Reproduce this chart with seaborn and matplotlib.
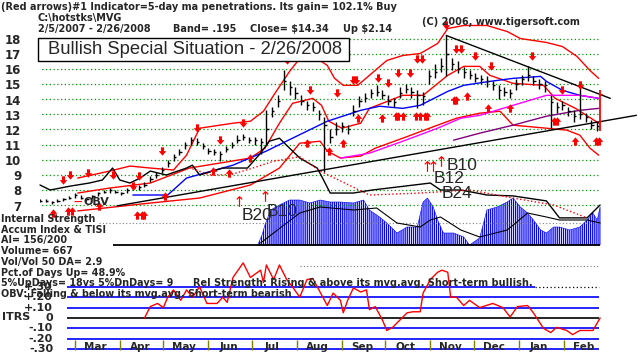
import numpy as np
import pandas as pd
import seaborn as sns
import matplotlib
matplotlib.use("Agg")
import matplotlib.pyplot as plt
from matplotlib.patches import Rectangle

# ---------------------------------
# Data, 2/5/2007 - 2/26/2008
# x values are calendar days after 2/5/2007
# ---------------------------------
start = pd.Timestamp("2007-02-05")

bar_day = np.arange(0, 385, 4)
bar_close = [7.3, 7.3, 7.2, 7.3, 7.4, 7.5, 7.7, 7.5, 7.4, 7.6,
             7.8, 7.9, 8.0, 7.9, 7.8, 8.0, 8.1, 8.2, 8.3, 8.7,
             9.0, 9.3, 9.8, 10.2, 10.5, 11.0, 11.3, 11.2, 10.9, 10.6,
             10.5, 10.4, 10.7, 11.0, 11.3, 11.5, 11.3, 11.3, 11.2, 12.0,
             13.2, 13.9, 15.2, 14.8, 14.4, 13.9, 13.6, 13.5, 13.0, 12.3,
             11.5, 12.0, 12.2, 12.0, 13.2, 13.9, 14.1, 14.4, 14.5, 14.3,
             13.9, 13.8, 14.4, 14.7, 14.5, 14.3, 14.2, 15.5, 15.8, 16.2,
             17.0, 16.3, 16.0, 15.8, 15.6, 15.4, 15.3, 15.2, 14.9, 14.6,
             14.5, 14.4, 15.0, 15.3, 15.6, 15.2, 15.0, 14.9, 13.8, 13.5,
             13.6, 13.2, 12.9, 13.0, 12.8, 12.3, 12.2]
bar_high = [7.4, 7.4, 7.3, 7.4, 7.5, 7.6, 7.8, 7.7, 7.5, 7.7,
            7.9, 8.0, 8.1, 8.0, 7.9, 8.1, 8.2, 8.3, 8.5, 8.9,
            9.2, 9.5, 10.0, 10.4, 10.7, 11.2, 11.5, 11.4, 11.1, 10.8,
            10.7, 10.6, 10.9, 11.2, 11.6, 11.7, 11.5, 11.5, 11.4, 13.3,
            13.5, 14.3, 15.9, 15.2, 14.8, 14.3, 13.9, 13.8, 13.3, 12.8,
            12.0, 12.5, 12.5, 12.3, 13.6, 14.2, 14.4, 14.7, 14.9, 14.6,
            14.3, 14.1, 14.8, 15.0, 14.8, 14.6, 14.5, 15.9, 16.3, 16.7,
            18.2, 16.7, 16.5, 16.1, 15.9, 15.7, 15.6, 15.5, 15.2, 14.9,
            14.8, 14.7, 15.3, 15.6, 16.2, 15.5, 15.3, 15.2, 14.3, 13.8,
            13.9, 13.5, 13.3, 14.8, 13.1, 12.6, 12.5]
bar_low = [7.2, 7.2, 7.1, 7.2, 7.3, 7.4, 7.5, 7.4, 7.3, 7.4,
           7.6, 7.8, 7.8, 7.8, 7.7, 7.8, 8.0, 8.0, 8.2, 8.5,
           8.8, 9.1, 9.5, 9.9, 10.3, 10.7, 11.0, 11.0, 10.7, 10.4,
           10.3, 9.9, 10.5, 10.8, 11.1, 11.3, 11.1, 11.0, 10.4, 11.0,
           12.8, 13.5, 14.6, 14.3, 14.0, 13.6, 13.3, 13.2, 12.6, 9.2,
           11.1, 11.6, 11.8, 11.7, 12.9, 13.5, 13.8, 14.1, 14.2, 14.0,
           13.6, 13.5, 14.1, 14.4, 14.1, 13.4, 13.6, 15.0, 15.4, 15.8,
           15.5, 15.9, 15.7, 15.4, 15.3, 15.1, 15.0, 14.8, 14.6, 14.0,
           14.2, 14.1, 14.6, 14.9, 15.2, 14.9, 14.7, 14.5, 12.0, 13.1,
           13.3, 12.9, 12.5, 12.7, 12.5, 12.0, 11.9]
last_day, last_close, last_high, last_low = 386, 14.34, 14.6, 11.9

upper_day = [26, 48, 62, 76, 92, 101, 110, 133, 145, 154, 161, 172, 179, 191, 198, 203, 209,
             219, 227, 239, 250, 262, 274, 281, 292, 308, 322, 331, 349, 360, 370, 379, 385]
upper_val = [8.79, 9.25, 9.58, 9.45, 9.32, 10.30, 12.08, 12.41, 12.54, 13.20, 14.25, 15.83,
             16.68, 16.68, 16.22, 15.37, 14.91, 14.91, 15.57, 16.55, 16.88, 17.01, 17.67,
             18.66, 18.86, 18.86, 18.46, 18.00, 17.74, 17.47, 16.82, 15.89, 15.37]
middle_day = [26, 48, 76, 103, 124, 145, 155, 165, 174, 188, 194, 199, 208, 221, 227, 250, 264,
              281, 292, 303, 310, 326, 347, 355, 369, 385]
middle_val = [7.80, 8.13, 8.46, 9.45, 9.78, 10.11, 10.76, 12.41, 13.72, 14.05, 13.59, 12.54,
              12.08, 12.41, 13.39, 14.25, 14.25, 15.57, 16.16, 16.16, 15.57, 15.04, 14.91,
              14.05, 13.39, 12.41]
lower_day = [26, 76, 110, 145, 165, 179, 193, 198, 207, 221, 231, 250, 274, 287, 303, 317, 326,
             349, 363, 372, 379, 385]
lower_val = [6.62, 7.14, 7.47, 8.33, 9.45, 11.09, 11.22, 10.57, 10.11, 10.24, 10.76, 11.42,
             12.28, 12.74, 13.07, 13.20, 12.28, 12.08, 11.95, 11.62, 10.76, 10.30]
blue_day = [64, 88, 101, 133, 156, 174, 198, 221, 234, 250, 262, 281, 292, 310, 326, 345, 349,
            360, 372, 385]
blue_val = [7.67, 7.67, 8.79, 9.64, 10.57, 11.42, 12.54, 13.26, 13.53, 13.39, 13.59, 14.51,
            14.91, 15.17, 15.37, 15.50, 15.17, 14.58, 14.25, 14.05]
magenta_day = [207, 227, 250, 274, 290, 303, 326, 349, 372, 385]
magenta_val = [10.11, 10.43, 11.22, 12.08, 12.74, 12.93, 13.59, 14.25, 14.25, 14.05]
purple_day = [285, 303, 326, 349, 372, 385]
purple_val = [11.29, 11.75, 12.28, 12.87, 13.26, 13.39]

obv_day = [0, 7, 21, 34, 43, 50, 55, 62, 69, 76, 87, 101, 105, 110, 126, 143, 152, 158, 165,
           172, 179, 191, 194, 200, 216, 229, 269, 276, 290, 308, 326, 349, 358, 377, 386]
obv_val = [8.33, 8.00, 8.26, 8.46, 8.66, 9.45, 8.66, 8.46, 8.79, 9.25, 8.99, 9.45, 9.64, 8.99,
           9.45, 9.45, 10.43, 11.22, 11.42, 10.76, 10.11, 9.45, 8.92, 7.80, 7.80, 8.00, 8.46,
           8.00, 8.00, 7.67, 7.61, 7.28, 6.16, 6.16, 7.01]
obv_ma_day = [105, 117, 131, 145, 161, 179, 193, 227, 262, 296, 326, 354, 377]
obv_ma_val = [9.40, 9.00, 9.00, 9.40, 9.90, 10.20, 9.25, 7.67, 7.80, 8.00, 7.47, 7.01, 6.16]

support_day, support_val = [53, 411], [6.95, 12.93]
resist_day, resist_val = [280, 393], [18.2, 14.05]

down_day = [16, 21, 33, 50, 64, 68, 84, 108, 124, 140, 170, 186, 205, 216, 218, 233, 240, 247,
            255, 260, 263, 280, 287, 290, 300, 311, 339, 360, 372]
down_val = [8.66, 8.99, 9.12, 8.99, 8.26, 8.92, 10.57, 12.08, 11.29, 12.41, 16.55, 14.58, 14.38,
            15.24, 15.24, 15.37, 15.04, 15.70, 15.70, 16.68, 16.68, 18.86, 17.34, 17.34, 16.82,
            16.16, 16.82, 14.58, 14.91]
up_day = [9, 19, 22, 41, 67, 70, 72, 86, 119, 130, 145, 184, 199, 209, 219, 236, 245, 247, 250,
          259, 262, 265, 267, 285, 287, 294, 309, 324, 354, 356, 369, 383, 385]
up_val = [6.49, 6.62, 6.62, 6.95, 6.36, 6.36, 6.36, 7.61, 9.25, 9.12, 10.11, 11.09, 10.57, 11.09,
          12.74, 12.74, 12.87, 12.87, 12.87, 12.87, 12.87, 12.87, 12.87, 13.92, 13.92, 14.18,
          13.39, 13.39, 12.54, 12.54, 11.22, 11.22, 11.22]
thin_day = [137, 155, 267, 271, 276]
thin_val = [7.28, 7.61, 9.58, 9.58, 9.91]

ai_day = [150, 153, 155, 159, 165, 172, 179, 186, 193, 200, 207, 216, 223, 227, 234, 239, 246,
          253, 260, 264, 267, 271, 274, 278, 285, 292, 296, 303, 308, 315, 322, 326, 331, 336,
          340, 345, 349, 354, 358, 365, 372, 377, 381, 384, 386]
ai_val = [0.00, 0.10, 0.20, 0.35, 0.40, 0.45, 0.45, 0.42, 0.45, 0.43, 0.43, 0.42, 0.45, 0.35,
          0.28, 0.22, 0.12, 0.18, 0.18, 0.43, 0.47, 0.38, 0.25, 0.12, 0.12, 0.08, 0.00, 0.07,
          0.35, 0.38, 0.43, 0.47, 0.38, 0.32, 0.25, 0.15, 0.12, 0.18, 0.18, 0.15, 0.18, 0.25,
          0.32, 0.25, 0.38]
tisi_day = [152, 179, 193, 216, 232, 246, 262, 269, 276, 290, 303, 322, 336, 349, 358, 377, 386]
tisi_val = [0.02, 0.32, 0.38, 0.35, 0.37, 0.22, 0.18, 0.25, 0.28, 0.15, 0.08, 0.15, 0.32, 0.28,
            0.25, 0.25, 0.22]

itrs_day = [72, 76, 81, 85, 88, 92, 97, 101, 105, 110, 115, 122, 126, 129, 133, 140, 145, 152,
            154, 156, 161, 165, 170, 174, 179, 184, 188, 193, 198, 202, 207, 209, 212, 216, 221,
            225, 227, 231, 236, 239, 243, 248, 253, 257, 262, 264, 269, 274, 277, 281, 283, 287,
            292, 296, 303, 312, 319, 324, 329, 336, 340, 347, 352, 356, 363, 367, 372, 377, 381,
            386]
itrs_val = [0.00, 0.11, 0.14, 0.10, 0.20, 0.27, 0.17, 0.27, 0.20, 0.30, 0.14, 0.14, 0.20, 0.15,
            0.39, 0.53, 0.39, 0.46, 0.34, 0.51, 0.37, 0.51, 0.37, 0.30, 0.20, 0.37, 0.38, 0.25,
            0.12, 0.24, 0.17, 0.05, 0.17, 0.29, 0.25, 0.27, 0.08, 0.11, -0.02, -0.12, -0.09,
            -0.02, 0.05, 0.06, 0.06, 0.24, 0.37, 0.44, 0.46, 0.44, 0.20, 0.20, 0.12, 0.17, 0.10,
            0.14, 0.10, 0.01, 0.11, 0.12, 0.05, -0.10, -0.14, -0.09, -0.12, -0.16, -0.12, -0.12,
            -0.12, 0.00]
itrs_levels = [0.2, 0.1, -0.1, -0.2, -0.3]
itrs_labels = {0.3: "+.30", 0.2: "+.20", 0.1: "+.10", 0.0: "0", -0.1: "-.10", -0.2: "-.20", -0.3: "-.30"}

info_lines = ["Internal Strength", "Accum Index & TISI", "AI= 156/200", "Volume= 667",
              "Vol/Vol 50 DA= 2.9", "Pct.of Days Up= 48.9%",
              "5%UpDays= 18vs 5%DnDays= 9", "OBV: Falling & below its mvg.avg. Short-term bearish"]

# ---------------------------------
# Figure layout (pixel based, 638x354)
# ---------------------------------
sns.set_style("white")
plt.rcParams['font.family'] = ['DejaVu Sans']
plt.rcParams['hatch.linewidth'] = 0.9
ARIAL = ['Liberation Sans', 'DejaVu Sans']

W, H = 638, 354
fig = plt.figure(figsize=(W / 100, H / 100), dpi=100)


def box(x0, y0, x1, y1):
    return [x0 / W, 1 - y1 / H, (x1 - x0) / W, (y1 - y0) / H]


def put(x, y, s, **kw):
    kw.setdefault("fontweight", "bold")
    kw.setdefault("fontsize", 7)
    kw.setdefault("va", "center")
    fig.text(x / W, 1 - y / H, s, **kw)


XMAX = 412.1
ax_ai = fig.add_axes(box(40, 190, 638, 250))
ax_ai.set_xlim(0, XMAX)
ax_ai.set_ylim(-0.05, 0.55)
ax_ai.axis("off")

ax = fig.add_axes(box(40, 22, 638, 250))
ax.set_xlim(0, XMAX)
ax.set_ylim(4.04, 19.09)
ax.axis("off")

ax_it = fig.add_axes(box(40, 255, 638, 352))
ax_it.set_xlim(0, XMAX)
ax_it.set_ylim(-0.327, 0.606)
ax_it.axis("off")

# ---------------------------------
# Accumulation index panel
# ---------------------------------
ax_ai.fill_between(ai_day, 0, ai_val, facecolor="none", edgecolor="blue",
                   hatch="||||||||", lw=0.4, zorder=1)
ax_ai.hlines(0, 50, 386, color="black", lw=1.3, zorder=2)
ax_ai.hlines(0.22, 41, 386, color="gray", linestyles=(0, (1, 2)), lw=0.8, zorder=1)
sns.lineplot(x=tisi_day, y=tisi_val, ax=ax_ai, color="black", lw=0.8, zorder=3)

# ---------------------------------
# Price panel
# ---------------------------------
ax.hlines(np.arange(7, 19), -1.4, 385, colors="#009900", linestyles=(0, (1, 2)), lw=0.9, zorder=1)
for p in range(7, 19):
    ax.text(-13, p - 0.13, str(p), ha="right", va="center", fontsize=8.5, fontweight="bold")

overlays = [
    (upper_day, upper_val, "red", "-"),
    (middle_day, middle_val, "red", "-"),
    (lower_day, lower_val, "red", "-"),
    (blue_day, blue_val, "blue", "-"),
    (magenta_day, magenta_val, "#ff00ff", "-"),
    (purple_day, purple_val, "#800080", "-"),
    (obv_day, obv_val, "black", "-"),
    (obv_ma_day, obv_ma_val, "red", ":"),
    (support_day, support_val, "black", "-"),
    (resist_day, resist_val, "black", "-"),
]
for d, v, c, ls in overlays:
    sns.lineplot(x=d, y=v, ax=ax, color=c, lw=1, linestyle=ls, zorder=2)
for l in ax.get_lines():
    l.set_clip_on(False)

ax.vlines(bar_day, bar_low, bar_high, color="black", lw=1, zorder=3)
ax.hlines(bar_close, bar_day, bar_day + 1.6, color="black", lw=1, zorder=3)
ax.vlines(last_day, last_low, last_high, color="red", lw=1.3, zorder=3)
ax.hlines(last_close, last_day, last_day + 1.6, color="red", lw=1, zorder=3)

down_arrow = [(-0.22, 0.6), (0.22, 0.6), (0.22, 0.05), (0.55, 0.05), (0, -0.6), (-0.55, 0.05),
              (-0.22, 0.05), (-0.22, 0.6)]
up_arrow = [(x, -y) for x, y in down_arrow]
ax.scatter(down_day, down_val, marker=down_arrow, s=36, color="red", linewidths=0, zorder=4, clip_on=False)
ax.scatter(up_day, up_val, marker=up_arrow, s=36, color="red", linewidths=0, zorder=4, clip_on=False)
ax.scatter(thin_day, thin_val, marker=r"$\uparrow$", s=60, color="red", linewidths=0, zorder=4, clip_on=False)

# signal labels
for txt, x, y in [("B10", 447, 166), ("B12", 434, 179), ("B24", 442, 193), ("B20", 242, 216), ("B10", 267, 212)]:
    put(x, y, txt, fontweight="normal", fontsize=12.5, family=ARIAL)
put(74, 202, "—", color="red", fontsize=6)
put(84, 202, "OBV", fontsize=8)

# ---------------------------------
# ITRS panel
# ---------------------------------
ax_it.hlines(itrs_levels, 18.6, 385.4, colors="blue", lw=1.2, zorder=1)
ax_it.hlines(0.3, 18.6, 341, colors="blue", lw=1.2, zorder=1)
ax_it.hlines(0.3, 341, 385.4, colors="black", linestyles=(0, (1, 2)), lw=0.9, zorder=1)
ax_it.hlines(0.0, 18.6, 385.4, colors="black", lw=1.2, zorder=1)
ax_it.hlines(0.5, 179, 385.4, colors="gray", linestyles=(0, (1, 2)), lw=0.8, zorder=1)
sns.lineplot(x=itrs_day, y=itrs_val, ax=ax_it, color="red", lw=1, zorder=3)

for lev, lab in itrs_labels.items():
    ax_it.text(9, lev, lab, ha="right", va="center", fontsize=8, fontweight="bold")
put(2, 317, "ITRS", fontsize=8)

months = pd.date_range("2007-03-01", "2008-02-01", freq="MS")
mdays = (months - start).days
ax_it.vlines(mdays, -0.31, -0.21, colors="#808000", lw=1, zorder=2)
for d, m in zip(mdays, months.strftime("%b")):
    ax_it.text(d + 14, -0.275, m, ha="center", va="center", fontsize=7.5, fontweight="bold")

# ---------------------------------
# Header and info text
# ---------------------------------
put(1, 7, "(Red arrows)#1 Indicator=5-day ma penetrations. Its gain= 102.1% Buy")
put(38, 18, "C:\\hotstks\\MVG")
put(38, 29, "2/5/2007 - 2/26/2008")
put(173, 29, "Band= .195")
put(250, 29, "Close= $14.34")
put(343, 29, "Up $2.14")
put(422, 22, "(C) 2006, www.tigersoft.com")

fig.add_artist(Rectangle((38 / W, 1 - 61 / H), 311 / W, 23 / H, transform=fig.transFigure,
                         facecolor="white", edgecolor="black", lw=1, zorder=5))
put(48, 49.5, "Bullish Special Situation - 2/26/2008", fontweight="normal", fontsize=13.2,
    family=ARIAL, zorder=6)

for i, s in enumerate(info_lines):
    put(1, 219 + i * 10.7, s, fontsize=6.9)
put(193, 283, "Rel Strength: Rising & above its mvg.avg. Short-term bullish.", fontsize=7)

fig.savefig("out.png", dpi=100)
